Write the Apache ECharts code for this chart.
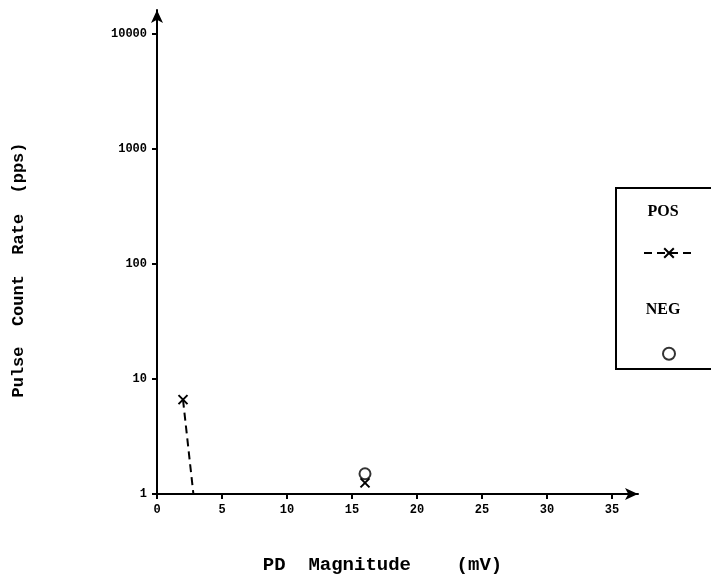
<!DOCTYPE html>
<html>
<head>
<meta charset="utf-8">
<script src="https://cdn.jsdelivr.net/npm/echarts@6/dist/echarts.min.js"></script>
<style>
  html, body { margin: 0; padding: 0; background: #fff; }
</style>
</head>
<body>
<div id="main" style="width: 711px; height: 582px;"></div>
<script>
// values
var xTicks = [0, 5, 10, 15, 20, 25, 30, 35]
var yTicks = [1, 10, 100, 1000, 10000]
// POS: dashed drop near 2-3 mV, then one point at 16 mV (null = gap)
var posX = [2, 2.8, 9, 16]
var posY = [6.6, 1, null, 1.25]
var negX = [16]
var negY = [1.5]

var font = 'Liberation Mono'
var xMark = 'path://M0,0L10,10M10,0L0,10'

var posData = []
for (var i = 0; i < posX.length; i++) {
  if (posY[i] === null) {
    posData.push([posX[i], '-'])
  } else if (posY[i] <= 1) {
    // line end sits on the axis, no marker drawn there
    posData.push({ value: [posX[i], posY[i]], symbol: 'none' })
  } else {
    posData.push([posX[i], posY[i]])
  }
}
var negData = []
for (var k = 0; k < negX.length; k++) {
  negData.push([negX[k], negY[k]])
}

var chart = echarts.init(document.getElementById('main'))
chart.setOption({
  animation: false,
  grid: { left: 157, right: 73, top: 10, bottom: 88 },
  xAxis: {
    type: 'value',
    min: 0,
    max: 37,
    name: 'PD  Magnitude    (mV)',
    nameLocation: 'middle',
    nameGap: 62,
    nameTextStyle: { fontFamily: font, fontWeight: 'bold', fontSize: 19, color: '#000', padding: [0, 30, 0, 0] },
    axisLine: { lineStyle: { color: '#000', width: 2 }, symbol: ['none', 'arrow'], symbolSize: [9, 13] },
    axisTick: { customValues: xTicks, length: 5, lineStyle: { color: '#000', width: 2 } },
    axisLabel: { customValues: xTicks, fontFamily: font, fontWeight: 'bold', fontSize: 12, color: '#000', margin: 10 },
    splitLine: { show: false }
  },
  yAxis: {
    type: 'log',
    logBase: 10,
    min: 1,
    max: 16000,
    name: 'Pulse  Count  Rate  (pps)',
    nameLocation: 'middle',
    nameGap: 130,
    nameTextStyle: { fontFamily: font, fontWeight: 'bold', fontSize: 17, color: '#000', padding: [0, 0, 0, -36] },
    axisLine: { lineStyle: { color: '#000', width: 2 }, symbol: ['none', 'arrow'], symbolSize: [9, 13] },
    axisTick: { customValues: yTicks, length: 5, lineStyle: { color: '#000', width: 2 } },
    axisLabel: {
      customValues: yTicks,
      formatter: function (v) { return String(Math.round(v)) },
      fontFamily: font, fontWeight: 'bold', fontSize: 12, color: '#000', margin: 10
    },
    splitLine: { show: false }
  },
  legend: {
    orient: 'vertical',
    left: 638,
    top: 242,
    itemWidth: 50,
    itemHeight: 12,
    itemGap: 88,
    formatter: function () { return '' },
    data: ['POS', 'NEG']
  },
  graphic: [
    { type: 'rect', shape: { x: 616, y: 188, width: 100, height: 181 }, style: { fill: 'none', stroke: '#000', lineWidth: 2 } },
    { type: 'text', x: 663, y: 212, style: { text: 'POS', font: 'bold 16px "Liberation Serif"', fill: '#000', align: 'center', verticalAlign: 'middle' } },
    { type: 'text', x: 663, y: 310, style: { text: 'NEG', font: 'bold 16px "Liberation Serif"', fill: '#000', align: 'center', verticalAlign: 'middle' } }
  ],
  series: [
    {
      name: 'POS',
      type: 'line',
      data: posData,
      connectNulls: false,
      symbol: xMark,
      symbolSize: 9,
      itemStyle: { color: '#000', borderColor: '#000', borderWidth: 2 },
      lineStyle: { color: '#000', width: 2, type: [8, 5] }
    },
    {
      name: 'NEG',
      type: 'scatter',
      data: negData,
      symbol: 'emptyCircle',
      symbolSize: 11,
      itemStyle: { color: '#000', borderColor: '#000', borderWidth: 2 }
    }
  ]
})
</script>
</body>
</html>
